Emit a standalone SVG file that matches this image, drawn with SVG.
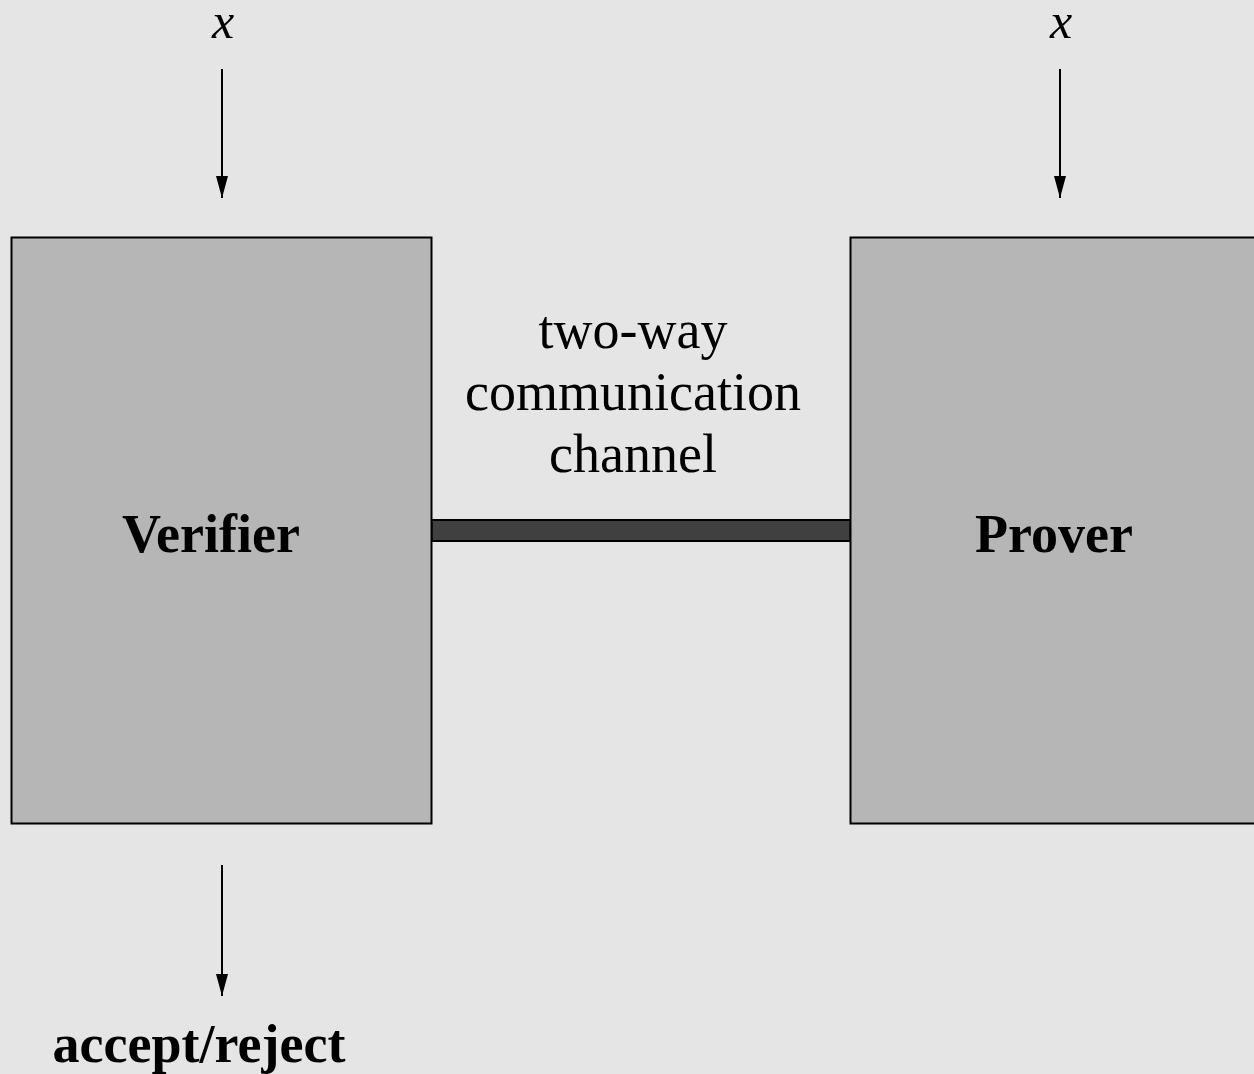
<svg xmlns="http://www.w3.org/2000/svg" width="1254" height="1074" viewBox="0 0 1254 1074">
  <style>
    .box { fill: #b6b6b6; stroke: #000; stroke-width: 2; }
    .wire { stroke: #000; stroke-width: 2; fill: none; }
    .lbl { font-family: "Liberation Serif", "Times New Roman", serif; font-size: 54px; fill: #000; text-anchor: middle; }
    .bold { font-weight: bold; }
    .var { font-style: italic; font-size: 50px; }
  </style>
  <defs>
    <marker id="head" viewBox="0 0 22 12" refX="22" refY="6" markerWidth="22" markerHeight="12" markerUnits="userSpaceOnUse" orient="auto">
      <path d="M0,0 L22,6 L0,12 Z" fill="#000"/>
    </marker>
  </defs>
  <rect width="1254" height="1074" fill="#e5e5e5"/>

  <g id="connectors">
    <line class="wire" x1="222" y1="69" x2="222" y2="198" marker-end="url(#head)"/>
    <line class="wire" x1="1060" y1="69" x2="1060" y2="198" marker-end="url(#head)"/>
    <line class="wire" x1="222" y1="865" x2="222" y2="996" marker-end="url(#head)"/>
    <rect id="channel" x="431.5" y="520" width="419" height="21" fill="#404040" stroke="#000" stroke-width="2"/>
  </g>

  <g id="verifier">
    <rect class="box" x="11.5" y="237.5" width="420" height="586"/>
    <text class="lbl bold" x="211" y="552">Verifier</text>
  </g>

  <g id="prover">
    <rect class="box" x="850.5" y="237.5" width="420" height="586"/>
    <text class="lbl bold" x="1054" y="552">Prover</text>
  </g>

  <g id="labels">
    <text class="lbl var" x="223" y="38">x</text>
    <text class="lbl var" x="1061" y="38">x</text>
    <text class="lbl" x="633" y="348">two-way</text>
    <text class="lbl" x="633" y="410">communication</text>
    <text class="lbl" x="633" y="472">channel</text>
    <text class="lbl bold" x="199" y="1062">accept/reject</text>
  </g>
</svg>
